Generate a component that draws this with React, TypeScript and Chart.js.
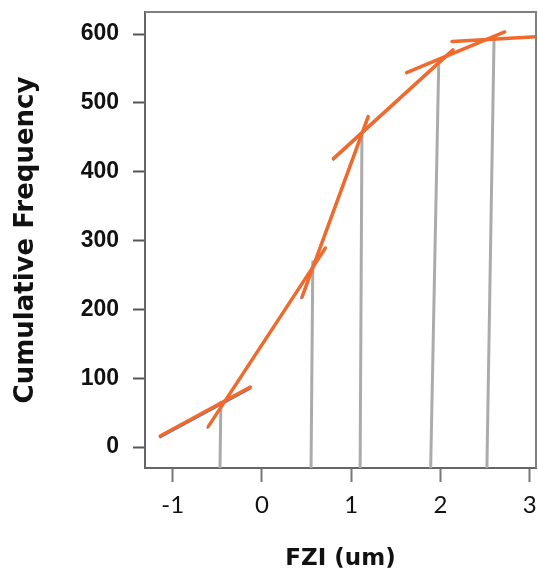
import { useEffect, useRef } from 'react';
import { Chart, registerables } from 'chart.js';

Chart.register(...registerables);

// axis ranges / ticks
const xRange = [-1.31, 3.07];
const yRange = [-30.5, 632];
const xStep = 1;
const yStep = 100;

// orange fitted trend segments (FZI, cumulative frequency)
const segA = [{ x: -1.14, y: 16 }, { x: -0.13, y: 87 }];
const segB = [{ x: -0.6, y: 30 }, { x: 0.71, y: 289 }];
const segC = [{ x: 0.45, y: 218 }, { x: 1.19, y: 480 }];
const segD = [{ x: 0.8, y: 419 }, { x: 2.14, y: 577 }];
const segE = [{ x: 1.62, y: 544 }, { x: 2.72, y: 603 }];
const segF = [{ x: 2.13, y: 589 }, { x: 3.08, y: 596 }];

// blue data series under the trend lines
const blueA = [{ x: -1.14, y: 14 }, { x: -0.13, y: 85 }];
const blueB = [{ x: -0.61, y: 28 }, { x: 0.7, y: 287 }];
const blueC = [{ x: 0.44, y: 216 }, { x: 1.18, y: 478 }];
const blueD = [{ x: 0.8, y: 417 }, { x: 2.13, y: 575 }];

// gray vertical break lines (bottom at axis, top on curve)
const breakBottomX = [-0.47, 0.55, 1.1, 1.89, 2.52];
const breakTopX = [-0.46, 0.57, 1.12, 1.98, 2.6];
const breakTopY = [65, 269, 451, 555, 594];

const ORANGE = '#EF6A2C';
const BLUE = '#3F6FC0';
const GRAY = '#ABABAB';

const framePlugin = {
  id: 'frame',
  afterDraw(chart: any) {
    const { ctx, chartArea } = chart;
    ctx.save();
    ctx.strokeStyle = '#808080';
    ctx.lineWidth = 2;
    ctx.beginPath();
    ctx.moveTo(chartArea.left, chartArea.top);
    ctx.lineTo(chartArea.right, chartArea.top);
    ctx.lineTo(chartArea.right, chartArea.bottom);
    ctx.stroke();
    ctx.restore();
  },
};

export default function App() {
  const ref = useRef<HTMLCanvasElement>(null);

  useEffect(() => {
    const line = (data: any[], color: string, width: number) => ({
      data,
      showLine: true,
      borderColor: color,
      backgroundColor: color,
      borderWidth: width,
      pointRadius: 0,
      borderCapStyle: 'round',
    });

    const breaks = breakBottomX.map((bx, i) =>
      line(
        [
          { x: bx, y: yRange[0] },
          { x: breakTopX[i], y: breakTopY[i] },
        ],
        GRAY,
        3
      )
    );

    // Chart.js draws dataset 0 on top
    const chart = new Chart(ref.current as HTMLCanvasElement, {
      type: 'scatter',
      data: {
        datasets: [
          line(segA, ORANGE, 3.5),
          line(segB, ORANGE, 3.5),
          line(segC, ORANGE, 3.5),
          line(segD, ORANGE, 3.5),
          line(segE, ORANGE, 3.5),
          line(segF, ORANGE, 3.5),
          line(blueA, BLUE, 2),
          line(blueB, BLUE, 2),
          line(blueC, BLUE, 2),
          line(blueD, BLUE, 1.5),
          ...breaks,
        ] as any,
      },
      options: {
        responsive: false,
        animation: false,
        layout: { padding: { left: 0, right: 2, top: 12, bottom: 0 } },
        plugins: { legend: { display: false }, tooltip: { enabled: false } },
        scales: {
          x: {
            type: 'linear',
            min: xRange[0],
            max: xRange[1],
            afterFit: (s: any) => {
              s.height = 102;
              s.paddingLeft = 0;
              s.paddingRight = 0;
            },
            ticks: {
              stepSize: xStep,
              includeBounds: false,
              color: '#111',
              padding: 9,
              font: { family: 'Lato', size: 24 },
            },
            grid: {
              drawOnChartArea: false,
              tickLength: 14,
              tickWidth: 2,
              color: '#777',
            },
            border: { color: '#666', width: 2 },
            title: {
              display: true,
              text: 'FZI (um)',
              color: '#111',
              font: { family: 'DejaVu Sans', size: 23, weight: 'bold' },
              padding: { top: 0, bottom: -3 },
            },
          },
          y: {
            type: 'linear',
            min: yRange[0],
            max: yRange[1],
            afterFit: (s: any) => {
              s.width = 145;
              s.paddingTop = 0;
              s.paddingBottom = 0;
            },
            ticks: {
              stepSize: yStep,
              includeBounds: false,
              color: '#111',
              padding: 14,
              font: { family: 'Liberation Sans', size: 23, weight: 'bold' },
            },
            grid: {
              drawOnChartArea: false,
              tickLength: 12,
              tickWidth: 2,
              color: '#555',
            },
            border: { color: '#666', width: 2 },
            title: {
              display: true,
              text: 'Cumulative Frequency',
              color: '#111',
              font: { family: 'DejaVu Sans', size: 26, weight: 'bold' },
              padding: { top: 11, bottom: 0 },
            },
          },
        },
      } as any,
      plugins: [framePlugin],
    });
    return () => chart.destroy();
  }, []);

  return (
    <div style={{ position: 'absolute', left: 0, top: 0, width: 538, height: 570, background: '#fff' }}>
      <canvas ref={ref} width={538} height={570} style={{ display: 'block' }} />
    </div>
  );
}
